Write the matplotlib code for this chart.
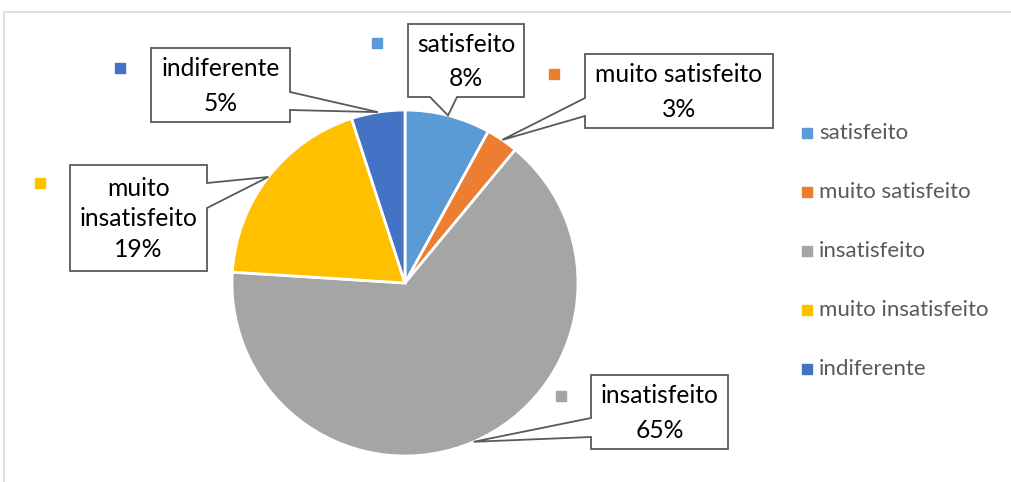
import numpy as np
import matplotlib
matplotlib.use("Agg")
import matplotlib.pyplot as plt
from matplotlib.patches import Polygon, Rectangle

labels = ["satisfeito", "muito satisfeito", "insatisfeito", "muito insatisfeito", "indiferente"]
values = [8, 3, 65, 19, 5]
colors = ["#5B9BD5", "#ED7D31", "#A5A5A5", "#FFC000", "#4472C4"]
box_text = ["satisfeito\n8%", "muito satisfeito\n3%", "insatisfeito\n65%",
            "muito\ninsatisfeito\n19%", "indiferente\n5%"]

plt.rcParams["font.family"] = ["Lato", "DejaVu Sans"]

W, H = 1011, 482
fig = plt.figure(figsize=(W / 100, H / 100), dpi=100)
ax = fig.add_axes([0, 0, 1, 1])

cx, cy, r = 405, 283, 173
# y axis is inverted (pixel style), so counterclock in data = clockwise on screen
wedges, _ = ax.pie(values, colors=colors, center=(cx, cy), radius=r,
                   startangle=-90, counterclock=True,
                   wedgeprops=dict(edgecolor="white", linewidth=2))
ax.set_xlim(0, W)
ax.set_ylim(H, 0)
ax.set_aspect("equal")
ax.axis("off")

# chart area frame
ax.add_patch(Rectangle((4, 12), W + 20, H + 20, fill=False, edgecolor="#D9D9D9", lw=1.2))

# callout boxes: (left, top, right, bottom), pointer side, pointer base (a, b), marker pos
callouts = [
    ((408, 24, 524, 97), "bottom", (430, 457), (377, 43)),
    ((585, 54, 773, 128), "left", (98, 116), (554, 74)),
    ((591, 375, 728, 449), "left", (418, 437), (561, 396)),
    ((70, 165, 207, 271), "right", (183, 208), (40, 183)),
    ((151, 48, 290, 122), "right", (92, 110), (120, 68)),
]
spacing = [1.6, 1.6, 1.6, 1.42, 1.6]

total = sum(values)
cum = np.cumsum([0] + values) / total
for i, (box, side, base, mpos) in enumerate(callouts):
    mid = -90 + 360 * (cum[i] + cum[i + 1]) / 2
    tip = (cx + r * np.cos(np.radians(mid)), cy + r * np.sin(np.radians(mid)))
    L, T, R, B = box
    a, b = base
    if side == "bottom":
        pts = [(L, T), (R, T), (R, B), (b, B), tip, (a, B), (L, B)]
    elif side == "left":
        pts = [(L, T), (R, T), (R, B), (L, B), (L, b), tip, (L, a)]
    else:
        pts = [(L, T), (R, T), (R, a), tip, (R, b), (R, B), (L, B)]
    ax.add_patch(Polygon(pts, closed=True, facecolor="white", edgecolor="#595959",
                         lw=1.3, zorder=5))
    ax.text((L + R) / 2, (T + B) / 2 + 1, box_text[i], ha="center", va="center",
            fontsize=17.7, color="black", linespacing=spacing[i], zorder=6)
    ax.scatter([mpos[0]], [mpos[1]], marker="s", s=55, color=colors[i], zorder=6)

# legend on the right
leg_y = [133, 192, 251, 310, 369]
for i, lab in enumerate(labels):
    ax.scatter([807], [leg_y[i]], marker="s", s=55, color=colors[i], zorder=6)
    ax.text(819, leg_y[i], lab, ha="left", va="center", fontsize=16, color="#595959")

fig.savefig("out.png", dpi=100)
